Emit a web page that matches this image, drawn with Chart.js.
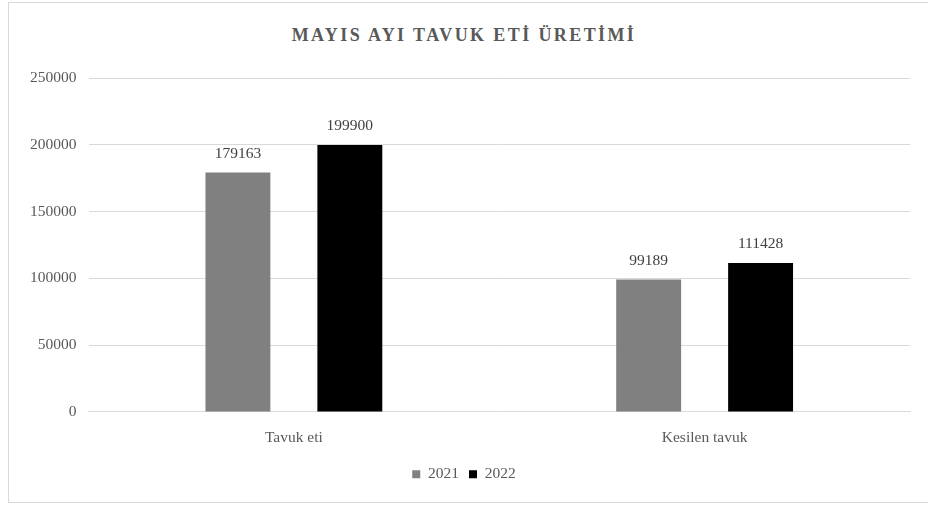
<!DOCTYPE html>
<html lang="tr">
<head>
    <meta charset="UTF-8">
    <title>Mayıs Ayı Tavuk Eti Üretimi</title>
    <script src="https://cdn.jsdelivr.net/npm/chart.js"></script>
    <style>
        body { margin: 0; background: #fff; }
        #wrap { position: relative; width: 928px; height: 506px; overflow: hidden; }
        #frame { position: absolute; left: 8px; top: 2px; width: 930px; height: 501px; border: 1px solid #d9d9d9; box-sizing: border-box; }
        #title {
            position: absolute; left: 0; top: 25px; width: 928px; text-align: center;
            font-family: "Liberation Serif", serif; font-weight: bold; font-size: 18px;
            letter-spacing: 2.4px; color: #595959;
        }
        #chart { position: absolute; left: 0; top: 0; }
    </style>
</head>
<body>
<div id="wrap">
    <div id="frame"></div>
    <div id="title">MAYIS AYI TAVUK ETİ ÜRETİMİ</div>
    <canvas id="chart" width="928" height="506"></canvas>
</div>
<script>
    var categories = ['Tavuk eti', 'Kesilen tavuk'];
    var values2021 = [179163, 99189];
    var values2022 = [199900, 111428];
    var seriesNames = ['2021', '2022'];

    var serif = '"Liberation Serif", "Times New Roman", serif';
    var fs = 15.5;

    // draws the value above every bar
    var valueLabels = {
        id: 'valueLabels',
        afterDatasetsDraw: function (chart) {
            var ctx = chart.ctx;
            ctx.save();
            ctx.font = fs + 'px ' + serif;
            ctx.fillStyle = '#404040';
            ctx.textAlign = 'center';
            ctx.textBaseline = 'bottom';
            chart.data.datasets.forEach(function (ds, i) {
                chart.getDatasetMeta(i).data.forEach(function (bar, j) {
                    ctx.fillText(String(ds.data[j]), bar.x, bar.y - 11);
                });
            });
            ctx.restore();
        }
    };

    var ctx = document.getElementById('chart').getContext('2d');
    var chart = new Chart(ctx, {
        type: 'bar',
        data: {
            labels: categories,
            datasets: [
                { label: seriesNames[0], data: values2021, backgroundColor: '#808080' },
                { label: seriesNames[1], data: values2022, backgroundColor: '#000000' }
            ]
        },
        options: {
            responsive: false,
            animation: false,
            layout: { padding: { top: 78, right: 18, left: 18, bottom: 14 } },
            datasets: {
                bar: { categoryPercentage: 0.545, barPercentage: 0.58 }
            },
            scales: {
                x: {
                    grid: { display: false },
                    border: { color: '#d9d9d9' },
                    ticks: { color: '#595959', font: { family: serif, size: fs }, padding: 9 }
                },
                y: {
                    min: 0,
                    max: 250000,
                    ticks: {
                        stepSize: 50000, color: '#595959', font: { family: serif, size: fs }, padding: 12,
                        callback: function (v) { return String(v); }
                    },
                    grid: { color: '#d9d9d9', drawTicks: false },
                    border: { display: false }
                }
            },
            plugins: {
                legend: {
                    position: 'bottom',
                    labels: {
                        boxWidth: 8, boxHeight: 8, padding: 10,
                        color: '#595959', font: { family: serif, size: fs }
                    }
                },
                tooltip: { enabled: false }
            }
        },
        plugins: [valueLabels]
    });
</script>
</body>
</html>
